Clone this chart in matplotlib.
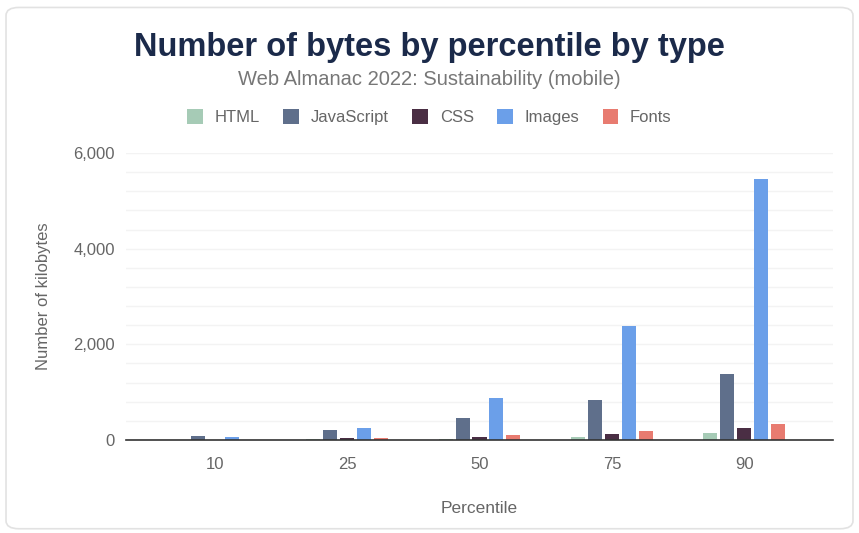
import numpy as np
import matplotlib
matplotlib.use('Agg')
from matplotlib import pyplot as plt
from matplotlib.patches import FancyBboxPatch
from matplotlib.ticker import MultipleLocator

percentiles = ['10', '25', '50', '75', '90']
html = [5, 15, 30, 65, 140]
javascript = [75, 215, 455, 830, 1380]
css = [10, 40, 70, 125, 245]
images = [65, 250, 870, 2390, 5460]
fonts = [5, 35, 105, 190, 335]

series = ['HTML', 'JavaScript', 'CSS', 'Images', 'Fonts']
colors = ['#a6cbb6', '#5f6f8b', '#4a2e44', '#6b9fe9', '#e87b70']

plt.rcParams['font.family'] = ['Liberation Sans', 'DejaVu Sans']

fig = plt.figure(figsize=(8.59, 5.33), dpi=100)
fig.patch.set_facecolor('white')

card = FancyBboxPatch((0.007, 0.008), 0.986, 0.978,
                      boxstyle='round,pad=0,rounding_size=0.015',
                      transform=fig.transFigure, facecolor='white',
                      edgecolor='#e2e2e2', linewidth=1.2, zorder=-5)
fig.patches.append(card)

ax = fig.add_axes([0.1467, 0.1745, 0.823, 0.5385])
ax.set_facecolor('none')

values = [html, javascript, css, images, fonts]
x = np.arange(len(percentiles))
width = 0.106
step = 0.128
for i, (name, vals, c) in enumerate(zip(series, values, colors)):
    offs = (i - 2) * step
    ax.bar(x + offs, vals, width, color=c, label=name, zorder=3)

ax.set_xlim(-0.67, 4.67)
ax.set_ylim(0, 6000)
ax.set_yticks([0, 2000, 4000, 6000])
ax.set_yticklabels(['0', '2,000', '4,000', '6,000'])
ax.yaxis.set_minor_locator(MultipleLocator(400))
ax.set_xticks(x)
ax.set_xticklabels(percentiles)
ax.tick_params(axis='both', which='both', length=0, labelsize=12, colors='#666666')
ax.tick_params(axis='y', pad=8)
ax.tick_params(axis='x', pad=12)
ax.grid(axis='y', which='both', color='#f3f3f3', linewidth=1, zorder=0)
for s in ['top', 'right', 'left']:
    ax.spines[s].set_visible(False)
ax.spines['bottom'].set_color('#333333')
ax.spines['bottom'].set_linewidth(1.2)
ax.spines['bottom'].set_zorder(4)

ax.set_xlabel('Percentile', fontsize=12.5, color='#666666', labelpad=21)
ax.set_ylabel('Number of kilobytes', fontsize=12, color='#666666', labelpad=16)

fig.text(0.5, 0.910, 'Number of bytes by percentile by type', ha='center', va='center',
         fontsize=23.5, fontweight='bold', color='#1b2a4a')
fig.text(0.5, 0.851, 'Web Almanac 2022: Sustainability (mobile)', ha='center', va='center',
         fontsize=14.5, color='#777777')

ax.legend(loc='center', bbox_to_anchor=(0.5, 0.780), bbox_transform=fig.transFigure,
          ncol=5, frameon=False, fontsize=12, handlelength=0.95, handleheight=0.95,
          columnspacing=1.4, handletextpad=0.7, labelcolor='#666666')

fig.savefig('out.png', dpi=100)
